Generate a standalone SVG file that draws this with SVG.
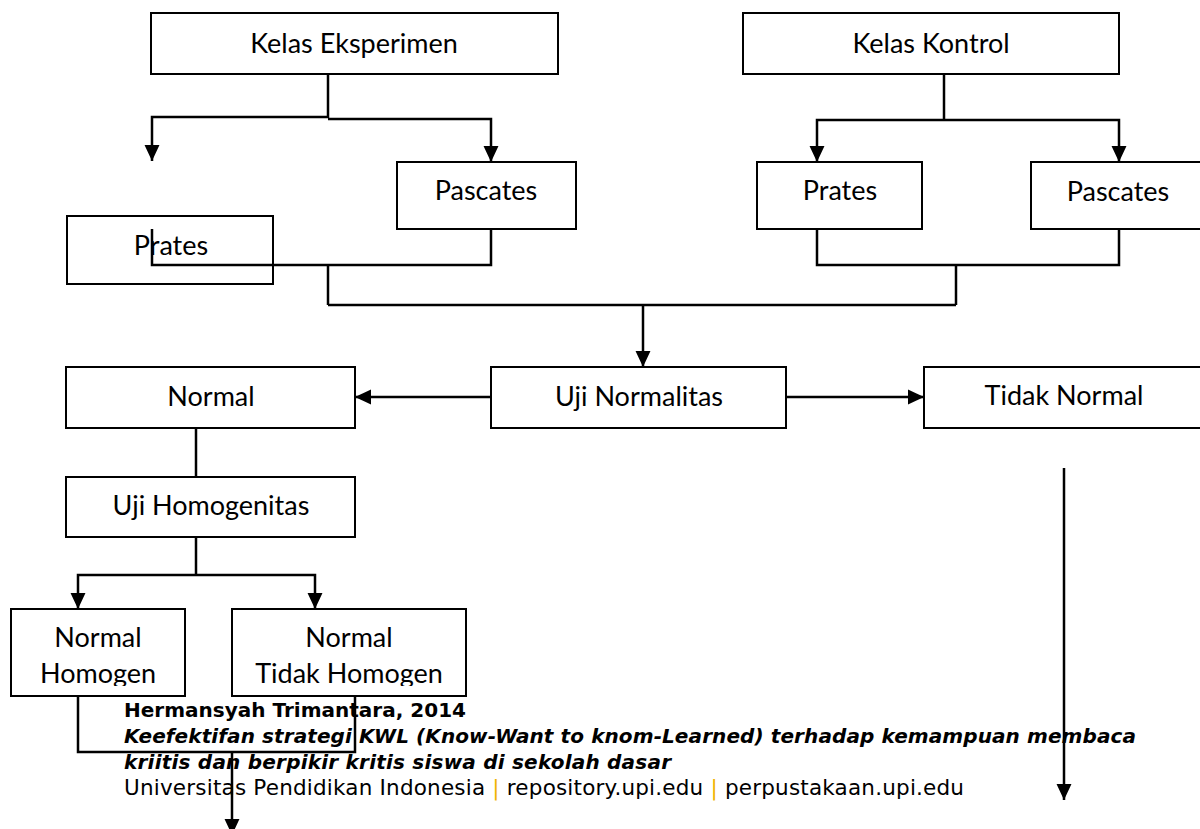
<svg xmlns="http://www.w3.org/2000/svg" width="1200" height="829" viewBox="0 0 1200 829">
<style>
.box{fill:none;stroke:#000;stroke-width:2}
.lbl{font-family:Lato,"Liberation Sans",sans-serif;font-size:27px;fill:#000;text-anchor:middle}
.con{fill:none;stroke:#000;stroke-width:2.5}
.ft{font-family:"DejaVu Sans",sans-serif;font-size:20px;fill:#000}
.ft2{font-family:"DejaVu Sans",sans-serif;font-size:21.5px;fill:#000}
</style>
<defs>
<marker id="ah" markerUnits="userSpaceOnUse" markerWidth="16" markerHeight="16" viewBox="0 0 15 14" refX="15" refY="7" orient="auto">
<path d="M0,0 L15,7 L0,14 Z" fill="#000"/>
</marker>
<clipPath id="c1"><rect x="11" y="609" width="174" height="77"/></clipPath>
<clipPath id="c2"><rect x="232" y="609" width="234" height="77"/></clipPath>
</defs>
<g id="kelas-eksperimen"><rect class="box" x="151" y="13" width="407" height="61"/><text class="lbl" x="354" y="53">Kelas Eksperimen</text></g>
<g id="kelas-kontrol"><rect class="box" x="743" y="13" width="376" height="61"/><text class="lbl" x="931" y="53">Kelas Kontrol</text></g>
<g id="pascates-e"><rect class="box" x="397" y="162" width="179" height="67"/><text class="lbl" x="486" y="200">Pascates</text></g>
<g id="prates-e"><rect class="box" x="67" y="216" width="206" height="68"/><text class="lbl" x="171" y="255">Prates</text></g>
<g id="prates-k"><rect class="box" x="757" y="162" width="165" height="67"/><text class="lbl" x="840" y="200">Prates</text></g>
<g id="pascates-k"><rect class="box" x="1031" y="162" width="174" height="67"/><text class="lbl" x="1118" y="201">Pascates</text></g>
<g id="normal"><rect class="box" x="66" y="367" width="289" height="61"/><text class="lbl" x="211" y="406">Normal</text></g>
<g id="uji-normalitas"><rect class="box" x="491" y="367" width="295" height="61"/><text class="lbl" x="639" y="406">Uji Normalitas</text></g>
<g id="tidak-normal"><rect class="box" x="924" y="367" width="281" height="61"/><text class="lbl" x="1064" y="405">Tidak Normal</text></g>
<g id="uji-homogenitas"><rect class="box" x="66" y="477" width="289" height="60"/><text class="lbl" x="211" y="515">Uji Homogenitas</text></g>
<g id="normal-homogen"><rect class="box" x="11" y="609" width="174" height="87"/><text class="lbl" clip-path="url(#c1)"><tspan x="98" y="647">Normal</tspan><tspan x="98" y="683">Homogen</tspan></text></g>
<g id="normal-tidak-homogen"><rect class="box" x="232" y="609" width="234" height="87"/><text class="lbl" clip-path="url(#c2)"><tspan x="349" y="647">Normal</tspan><tspan x="349" y="683">Tidak Homogen</tspan></text></g>
<g id="connectors">
<path class="con" d="M328,74 V118"/>
<path class="con" d="M328,117 H152 V161" marker-end="url(#ah)"/>
<path class="con" d="M328,119 H491 V162" marker-end="url(#ah)"/>
<path class="con" d="M152,229 V265 H491 V229"/>
<path class="con" d="M328,265 V305"/>
<path class="con" d="M944,74 V120"/>
<path class="con" d="M944,120 H817 V162" marker-end="url(#ah)"/>
<path class="con" d="M944,120 H1119 V162" marker-end="url(#ah)"/>
<path class="con" d="M817,229 V265 H1119 V229"/>
<path class="con" d="M956,265 V305"/>
<path class="con" d="M328,305 H956"/>
<path class="con" d="M643,305 V367" marker-end="url(#ah)"/>
<path class="con" d="M491,397 H355" marker-end="url(#ah)"/>
<path class="con" d="M786,397 H924" marker-end="url(#ah)"/>
<path class="con" d="M196,428 V477"/>
<path class="con" d="M196,537 V575"/>
<path class="con" d="M196,575 H78 V609" marker-end="url(#ah)"/>
<path class="con" d="M196,575 H315 V609" marker-end="url(#ah)"/>
<path class="con" d="M78,696 V752 H355 V696"/>
<path class="con" d="M232,752 V835" marker-end="url(#ah)"/>
<path class="con" d="M1064,468 V800" marker-end="url(#ah)"/>
</g>
<g id="footer">
<text class="ft" x="124" y="717" font-weight="bold" textLength="342">Hermansyah Trimantara, 2014</text>
<text class="ft" x="124" y="743" font-weight="bold" font-style="italic" textLength="1012">Keefektifan strategi KWL (Know-Want to knom-Learned) terhadap kemampuan membaca</text>
<text class="ft" x="124" y="769" font-weight="bold" font-style="italic" textLength="547">kriitis dan berpikir kritis siswa di sekolah dasar</text>
<text class="ft2" x="124" y="795" textLength="840">Universitas Pendidikan Indonesia <tspan fill="#f0b400">|</tspan> repository.upi.edu <tspan fill="#f0b400">|</tspan> perpustakaan.upi.edu</text>
</g>
</svg>
